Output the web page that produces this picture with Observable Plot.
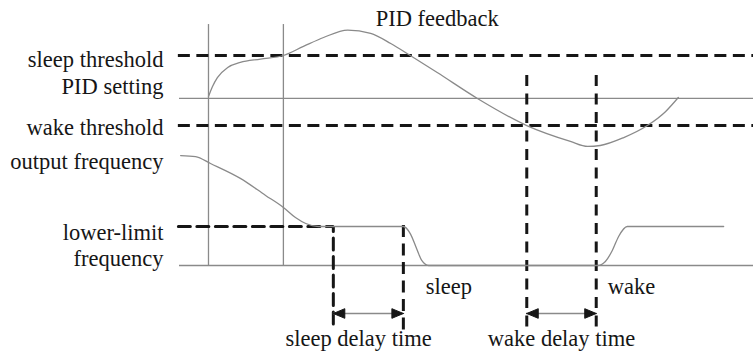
<!DOCTYPE html>
<html>
<head>
<meta charset="utf-8">
<script src="https://cdn.jsdelivr.net/npm/d3@7"></script>
<script src="https://cdn.jsdelivr.net/npm/@observablehq/plot@0.6"></script>
<style>
  html, body { margin: 0; padding: 0; background: #fff; }
  #chart { width: 753px; height: 358px; }
</style>
</head>
<body>
<div id="chart"></div>
<script>
// ---------- data (abstract time units 0..100, level units 0..100) ----------
const levelNames  = ["sleep threshold", "PID setting", "wake threshold", "lower-limit frequency"];
const levelValues = [87.5, 69.6, 58.3, 16.25];

// event times
const eventNames = ["PID start", "sleep threshold crossed", "sleep delay start", "sleep", "wake delay start", "wake"];
const eventTimes = [5.05, 18.1, 26.8, 39.0, 60.5, 72.6];

// PID feedback curve
const pidT = [5.05, 5.75, 6.6, 8.4, 10.6, 14.1, 18.1, 21.6, 25.1, 29.3, 33.3, 36.8, 40.2, 44.9, 51.9, 60.5, 68.1, 71.1, 73.3, 77.4, 81.5, 84.7, 86.9];
const pidV = [70.4, 74.6, 78.3, 82.5, 84.6, 86.0, 87.5, 91.3, 95.0, 98.1, 96.7, 92.5, 87.5, 80.4, 69.6, 58.3, 51.7, 49.6, 50.0, 53.3, 58.3, 64.2, 70.0];

// output frequency curve
const outT = [0.2, 2.8, 5.4, 10.6, 15.0, 18.1, 20.2, 22.0, 24.2, 39.0, 40.2, 41.3, 42.2, 43.4, 72.8, 74.2, 75.4, 76.5, 78.0, 94.8];
const outV = [45.8, 45.4, 42.5, 36.3, 29.2, 24.2, 20.0, 17.5, 16.25, 16.25, 13.3, 7.1, 2.1, 0, 0, 1.7, 6.25, 12.1, 16.25, 16.25];

const titleText = "PID feedback";
const stateNames = ["sleep", "wake"];
const delayNames = ["sleep delay time", "wake delay time"];

// ---------- layout (not data) ----------
const X0 = 0, X1 = 100;          // extent of time axis
const xLeftDash = -0.2;           // where dashed levels start
const yTopLines = 100.4;          // top of gray event lines
const yTopWakeDash = 79.2;        // top of wake dashed verticals
const yBottomDash = -27;          // bottom of dashed verticals
const yArrow = -20;               // arrow row
const headL = 2.0, headH = 2.0;   // arrowhead size in units
const labelX = -2.8;
const FONT = "Liberation Serif";
const FS = 22.5;

const [sleepTh, pidSet, wakeTh, lowLim] = levelValues;
const [tPid, tCross, tSleepD, tSleep, tWakeD, tWake] = eventTimes;

const pidData = pidT.map((t, i) => ({t, v: pidV[i]}));
const outData = outT.map((t, i) => ({t, v: outV[i]}));

const gray = "#8a8a8a";
const ink = "#161616";
const dash = "12,6.5";

// arrowhead triangles (closed polygons)
const heads = [];
function head(id, tip, dir) {
  heads.push({id, x: tip, y: yArrow});
  heads.push({id, x: tip + dir * headL, y: yArrow - headH});
  heads.push({id, x: tip + dir * headL, y: yArrow + headH});
  heads.push({id, x: tip, y: yArrow});
}
head("s1", tSleepD, 1); head("s2", tSleep, -1);
head("w1", tWakeD, 1); head("w2", tWake, -1);

const leftLabels = [
  {text: levelNames[0], y: sleepTh - 1.25},
  {text: levelNames[1], y: pidSet + 5.4},
  {text: levelNames[2], y: wakeTh - 0.4},
  {text: "output frequency", y: outV[0] - 2.1},
  {text: "lower-limit\nfrequency", y: lowLim - 7.4}
];

const chart = Plot.plot({
  width: 753,
  height: 358,
  margin: 0,
  x: {domain: [X0, X1], range: [179, 753], axis: null},
  y: {domain: [0, 100], range: [265, 25], axis: null},
  style: {background: "#fff"},
  marks: [
    // gray event lines
    Plot.ruleX([tPid, tCross], {y1: 0, y2: yTopLines, stroke: gray, strokeWidth: 1.3}),
    // baseline and PID setting
    Plot.ruleY([0], {x1: X0, x2: X1, stroke: gray, strokeWidth: 1.5}),
    Plot.ruleY([pidSet], {x1: X0, x2: X1, stroke: gray, strokeWidth: 1.2}),
    // dashed thresholds
    Plot.ruleY([sleepTh, wakeTh], {x1: xLeftDash, x2: X1, stroke: ink, strokeWidth: 3, strokeDasharray: dash}),
    // lower-limit L
    Plot.line([{t: xLeftDash, v: lowLim}, {t: tSleepD, v: lowLim}, {t: tSleepD, v: yBottomDash}],
      {x: "t", y: "v", stroke: ink, strokeWidth: 3, strokeDasharray: dash, strokeLinejoin: "miter"}),
    Plot.ruleX([tSleep], {y1: lowLim + 0.4, y2: yBottomDash, stroke: ink, strokeWidth: 3, strokeDasharray: dash}),
    Plot.ruleX([tWakeD, tWake], {y1: yTopWakeDash, y2: yBottomDash, stroke: ink, strokeWidth: 3, strokeDasharray: "11,7.5"}),
    // curves
    Plot.line(pidData, {x: "t", y: "v", curve: "monotone-x", stroke: gray, strokeWidth: 1.3}),
    Plot.line(outData, {x: "t", y: "v", curve: "monotone-x", stroke: gray, strokeWidth: 1.3}),
    // delay arrows
    Plot.ruleY([yArrow, yArrow], {x1: [tSleepD, tWakeD], x2: [tSleep, tWake], stroke: gray, strokeWidth: 1.5}),
    Plot.line(heads, {x: "x", y: "y", z: "id", fill: ink, stroke: ink, strokeWidth: 1, curve: "linear-closed"}),
    // texts
    Plot.text(leftLabels, {x: labelX, y: "y", text: "text", textAnchor: "end", fontSize: FS, fontFamily: FONT, fill: ink, lineHeight: 1.16}),
    Plot.text([titleText], {x: 44.9, y: 102.9, text: d => d, fontSize: FS, fontFamily: FONT, fill: ink}),
    Plot.text(stateNames, {x: [42.9, 74.6], y: -8.75, text: d => d, textAnchor: "start", fontSize: FS, fontFamily: FONT, fill: ink}),
    Plot.text(delayNames, {x: [(tSleepD + tSleep) / 2 - 1.7, (tWakeD + tWake) / 2], y: -30.4, text: d => d, fontSize: FS, fontFamily: FONT, fill: ink})
  ]
});
document.getElementById("chart").appendChild(chart);
</script>
</body>
</html>
